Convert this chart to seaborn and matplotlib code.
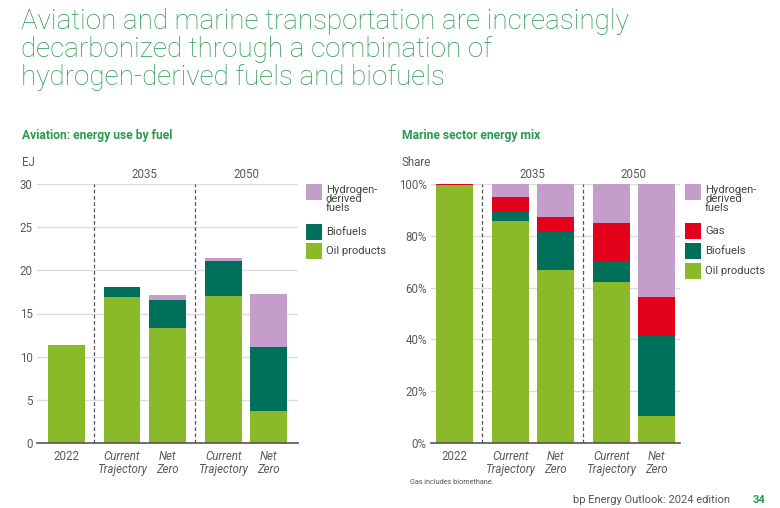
import numpy as np
import pandas as pd
import seaborn as sns
import matplotlib.pyplot as plt
from matplotlib.patches import Rectangle

# Data
bar_labels = ['2022', 'Current\nTrajectory', 'Net\nZero', 'Current\nTrajectory', 'Net\nZero']
groups = ['2035', '2050']

# Aviation, EJ
av_oil = [11.4, 16.9, 13.3, 17.0, 3.7]
av_bio = [0.0, 1.2, 3.3, 4.1, 7.4]
av_hyd = [0.0, 0.0, 0.5, 0.3, 6.15]

# Marine, share %
ma_oil = [99.5, 85.6, 66.7, 62.1, 10.3]
ma_bio = [0.0, 3.9, 15.0, 8.3, 31.4]
ma_gas = [0.5, 5.6, 5.4, 14.7, 14.7]
ma_hyd = [0.0, 4.9, 12.9, 14.9, 43.6]

colors = {'Oil products': '#8aba2a', 'Biofuels': '#00705a',
          'Gas': '#e2001a', 'Hydrogen-\nderived\nfuels': '#c49dca'}
green = '#2a9a50'
grey = '#5a5a5a'

sns.set_theme(style="white")
plt.rcParams['font.family'] = ['Roboto', 'DejaVu Sans']

# bar positions: extra gap between the 2022 / 2035 / 2050 groups
gap = 0.23
pos = np.array([0, 1 + gap, 2 + gap, 3 + 2 * gap, 4 + 2 * gap])

fig = plt.figure(figsize=(7.8, 5.08), dpi=100)
W, H = 780, 508


def fx(x):
    return x / W


def fy(y):
    return 1 - y / H


def stacked(ax, layers):
    # draw cumulative totals, tallest first, so bars stack
    cum = np.cumsum([v for _, v in layers], axis=0)
    for i in range(len(layers) - 1, -1, -1):
        df = pd.DataFrame({'x': pos, 'y': cum[i]})
        sns.barplot(data=df, x='x', y='y', native_scale=True, width=0.81,
                    color=colors[layers[i][0]], saturation=1, errorbar=None,
                    linewidth=0, ax=ax)


def style_axes(ax, ymax, step, fmt, margin):
    ax.set_ylim(0, ymax)
    ax.set_yticks(np.arange(0, ymax + 0.01, step))
    ax.set_yticklabels([fmt(v) for v in np.arange(0, ymax + 0.01, step)])
    ax.set_xlim(pos[0] - margin, pos[-1] + margin)
    ax.set_xticks(pos)
    ax.set_xticklabels(bar_labels, linespacing=1.05)
    for t in ax.get_xticklabels()[1:]:
        t.set_fontstyle('italic')
    ax.tick_params(axis='both', length=0, labelsize=8.3, colors=grey)
    ax.tick_params(axis='x', pad=5)
    ax.tick_params(axis='y', pad=3)
    ax.set_xlabel('')
    ax.set_ylabel('')
    ax.yaxis.grid(True, color='#dcdcdc', lw=1)
    ax.set_axisbelow(True)
    for s in ['top', 'right', 'left']:
        ax.spines[s].set_visible(False)
    ax.spines['bottom'].set_color('#555555')
    ax.spines['bottom'].set_linewidth(1.2)
    for d in [(pos[0] + pos[1]) / 2, (pos[2] + pos[3]) / 2]:
        ax.axvline(d, color='#555555', lw=0.9, ls=(0, (3, 2)), zorder=3)
    for g, c in zip(groups, [(pos[1] + pos[2]) / 2, (pos[3] + pos[4]) / 2]):
        ax.text(c, 1.035, g, transform=ax.get_xaxis_transform(),
                ha='center', va='center', fontsize=8.3, color=grey)


def legend(x, ys, names):
    for y, n in zip(ys, names):
        fig.add_artist(Rectangle((fx(x), fy(y + 16)), 16 / W, 16 / H,
                                 transform=fig.transFigure,
                                 color=colors[n], lw=0))
        if '\n' in n:
            fig.text(fx(x + 20), fy(y + 1), n, va='top', ha='left',
                     fontsize=8.1, color='#444444', linespacing=0.88)
        else:
            fig.text(fx(x + 20), fy(y + 8), n, va='center', ha='left',
                     fontsize=8.1, color='#444444')


# Aviation
ax1 = fig.add_axes([fx(37), fy(443), 261 / W, 259 / H])
stacked(ax1, [('Oil products', av_oil), ('Biofuels', av_bio),
              ('Hydrogen-\nderived\nfuels', av_hyd)])
style_axes(ax1, 30, 5, lambda v: f'{v:.0f}', 0.64)

# Marine
ax2 = fig.add_axes([fx(431), fy(443), 249 / W, 259 / H])
stacked(ax2, [('Oil products', ma_oil), ('Biofuels', ma_bio), ('Gas', ma_gas),
              ('Hydrogen-\nderived\nfuels', ma_hyd)])
style_axes(ax2, 100, 20, lambda v: f'{v:.0f}%', 0.52)

legend(306, [184, 224, 243], ['Hydrogen-\nderived\nfuels', 'Biofuels', 'Oil products'])
legend(685, [184, 223, 243, 263], ['Hydrogen-\nderived\nfuels', 'Gas', 'Biofuels', 'Oil products'])

# Texts
fig.text(fx(21), fy(8), 'Aviation and marine transportation are increasingly\n'
         'decarbonized through a combination of\nhydrogen-derived fuels and biofuels',
         ha='left', va='top', fontsize=20, color=green, fontweight='light',
         linespacing=1.05)
fig.text(fx(22), fy(136), 'Aviation: energy use by fuel', ha='left', va='center',
         fontsize=8.7, fontweight='bold', color=green)
fig.text(fx(402), fy(136), 'Marine sector energy mix', ha='left', va='center',
         fontsize=8.7, fontweight='bold', color=green)
fig.text(fx(22), fy(162), 'EJ', ha='left', va='center', fontsize=8.3, color=grey)
fig.text(fx(402), fy(162), 'Share', ha='left', va='center', fontsize=8.3, color=grey)
fig.text(fx(410), fy(483), 'Gas includes biomethane.', ha='left', va='center',
         fontsize=5.2, color='#555555')
fig.text(fx(730), fy(500), 'bp Energy Outlook: 2024 edition', ha='right', va='center',
         fontsize=8, color='#555555')
fig.text(fx(765), fy(500), '34', ha='right', va='center', fontsize=8,
         fontweight='bold', color=green)

fig.savefig('out.png', dpi=100)
